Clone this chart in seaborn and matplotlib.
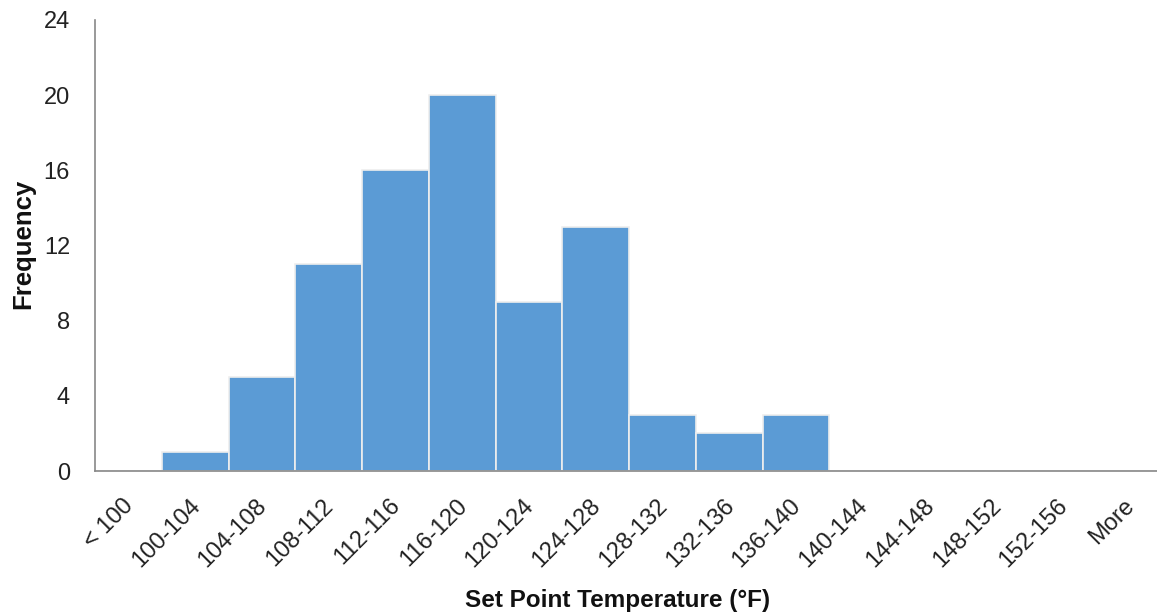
import matplotlib
matplotlib.use("Agg")
import matplotlib.pyplot as plt
import matplotlib.transforms as mtransforms
import seaborn as sns
import pandas as pd

categories = ["< 100", "100-104", "104-108", "108-112", "112-116", "116-120",
              "120-124", "124-128", "128-132", "132-136", "136-140", "140-144",
              "144-148", "148-152", "152-156", "More"]
frequency = [0, 1, 5, 11, 16, 20, 9, 13, 3, 2, 3, 0, 0, 0, 0, 0]
y_ticks = [0, 4, 8, 12, 16, 20, 24]

sns.set_theme(style="white")
plt.rcParams["font.family"] = ["Liberation Sans", "DejaVu Sans"]

df = pd.DataFrame({"cat": categories, "freq": frequency})

W, H = 1157, 616
x0, x1, y0, y1 = 95, 1163, 471, 20
fig = plt.figure(figsize=(W / 100, H / 100), dpi=100)
ax = fig.add_axes([x0 / W, 1 - y0 / H, (x1 - x0) / W, (y0 - y1) / H])
sns.barplot(data=df, x="cat", y="freq", order=categories, color="#5B9BD5",
            saturation=1, width=1.0, edgecolor="#EEEEEE", linewidth=1.2, ax=ax)

ax.set_xlim(-0.5, len(categories) - 0.5)
ax.set_ylim(0, 24)
ax.set_yticks(y_ticks)
ax.set_yticklabels([str(t) for t in y_ticks], fontsize=17, color="#222222")
ax.tick_params(axis="y", length=0, pad=18)
ax.tick_params(axis="x", length=0, pad=12)
offset = mtransforms.ScaledTranslation(-6 / 100, -7 / 100, fig.dpi_scale_trans)
for lab in ax.get_xticklabels():
    lab.set_rotation(45)
    lab.set_ha("right")
    lab.set_rotation_mode("anchor")
    lab.set_fontsize(17)
    lab.set_color("#222222")
    lab.set_transform(lab.get_transform() + offset)

for side in ["top", "right"]:
    ax.spines[side].set_visible(False)
for side in ["left", "bottom"]:
    ax.spines[side].set_color("#888888")
    ax.spines[side].set_linewidth(1.2)

ax.set_xlabel("Set Point Temperature (°F)", fontsize=17.5, fontweight="bold", color="#111111")
ax.set_ylabel("Frequency", fontsize=18.5, fontweight="bold", color="#111111")
ax.xaxis.set_label_coords((618 - x0) / (x1 - x0), -(600 - y0) / (y0 - y1))
ax.yaxis.set_label_coords(-(x0 - 23) / (x1 - x0), (y0 - 244) / (y0 - y1))
ax.xaxis.label.set_va("center")
ax.yaxis.label.set_va("center")

fig.savefig("out.png", dpi=100, facecolor="white")
